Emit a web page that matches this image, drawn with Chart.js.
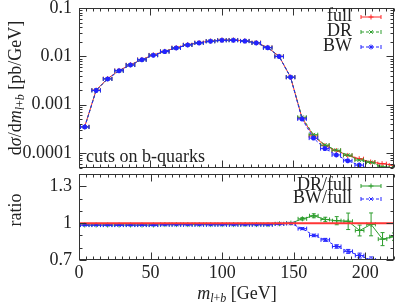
<!DOCTYPE html>
<html>
<head>
<meta charset="utf-8">
<script src="https://cdn.jsdelivr.net/npm/chart.js@4.4.0/dist/chart.umd.min.js"></script>
<style>
  body { margin: 0; background: #fff; }
  #wrap { position: relative; width: 399px; height: 302px; overflow: hidden; font-family: "Liberation Serif", serif; color: #222; }
  canvas { position: absolute; left: 0; }
  #top { top: 0; }
  #bottom { top: 169px; }
  .lbl { position: absolute; font-size: 18px; white-space: nowrap; line-height: 1; }
  .rot { transform: translate(-50%, -50%) rotate(-90deg); }
  sub { font-size: 12px; vertical-align: -3px; line-height: 0; }
</style>
</head>
<body>
<div id="wrap">
  <canvas id="top" width="399" height="173"></canvas>
  <canvas id="bottom" width="399" height="133"></canvas>
  <div class="lbl rot" style="left:15px;top:88px">d<i>σ</i>/d<i>m</i><sub><i>l</i>+<i>b</i></sub> [pb/GeV]</div>
  <div class="lbl rot" style="left:15px;top:210px">ratio</div>
  <div class="lbl" style="left:237px;top:293px;transform:translate(-50%,-50%)"><i>m</i><sub><i>l</i>+<i>b</i></sub> [GeV]</div>
  <div class="lbl" style="left:86px;top:156px;transform:translateY(-50%)">cuts on b-quarks</div>
</div>
<script>
// bin centres in m_l+b [GeV]
const mass = [4, 12, 20, 28, 36, 44, 52, 60, 68, 76, 84, 92, 100, 108, 116, 124, 132, 140, 148, 156, 164, 172, 180, 188, 196, 204, 212, 220]
const binHalf = 3

// dsigma/dm [pb/GeV]
const fullXs = [3.5e-4, 2.0e-3, 3.45e-3, 5.1e-3, 6.7e-3, 8.6e-3, 0.0107, 0.0127, 0.0151, 0.0174, 0.0192, 0.0207, 0.0217, 0.0218, 0.0209, 0.0192, 0.0153, 0.0100, 0.0037, 5.3e-4, 2.25e-4, 1.42e-4, 1.12e-4, 8.9e-5, 7.6e-5, 6.5e-5, 6.0e-5, 5.6e-5]
const drXs = [3.45e-4, 1.97e-3, 3.40e-3, 5.02e-3, 6.60e-3, 8.47e-3, 0.01054, 0.01254, 0.01492, 0.01719, 0.01897, 0.02045, 0.02144, 0.02154, 0.02065, 0.01897, 0.01512, 0.00995, 0.0037, 5.49e-4, 2.39e-4, 1.46e-4, 1.14e-4, 9.0e-5, 7.1e-5, 6.4e-5, 5.2e-5, 5.0e-5]
const bwXs = [3.44e-4, 1.97e-3, 3.40e-3, 5.02e-3, 6.60e-3, 8.47e-3, 0.01054, 0.01251, 0.01490, 0.01717, 0.01895, 0.02043, 0.02142, 0.02152, 0.02063, 0.01895, 0.01510, 0.00993, 0.00369, 5.06e-4, 2.03e-4, 1.23e-4, 9.1e-5, 6.9e-5, 5.6e-5, 4.55e-5, 4.0e-5, 3.6e-5]

// ratios to full
const drRatio = [0.985, 0.985, 0.985, 0.985, 0.985, 0.985, 0.985, 0.988, 0.988, 0.988, 0.988, 0.988, 0.988, 0.988, 0.988, 0.988, 0.988, 0.995, 1.0, 1.035, 1.06, 1.03, 1.02, 1.015, 0.94, 0.99, 0.87, 0.89]
const drRatioErr = [0.003, 0.003, 0.003, 0.003, 0.003, 0.003, 0.003, 0.003, 0.003, 0.003, 0.003, 0.003, 0.003, 0.003, 0.003, 0.003, 0.003, 0.004, 0.005, 0.01, 0.016, 0.018, 0.033, 0.067, 0.044, 0.093, 0.053, 0.03]
const bwRatio = [0.984, 0.984, 0.984, 0.984, 0.984, 0.984, 0.984, 0.987, 0.987, 0.987, 0.987, 0.987, 0.987, 0.987, 0.987, 0.987, 0.987, 0.993, 0.997, 0.955, 0.90, 0.864, 0.81, 0.77, 0.736, 0.70, 0.67, 0.64]
const bwRatioErr = [0.002, 0.002, 0.002, 0.002, 0.002, 0.002, 0.002, 0.002, 0.002, 0.002, 0.002, 0.002, 0.002, 0.002, 0.002, 0.002, 0.002, 0.003, 0.004, 0.008, 0.01, 0.012, 0.014, 0.016, 0.02, 0.025, 0.03, 0.035]
const refX = [0, 220]
const refY = [1, 1]

const xTicks = [0, 50, 100, 150, 200]
const xTickLabels = ["0", "50", "100", "150", "200"]
const yTopTicks = [1e-4, 1e-3, 1e-2, 1e-1]
const yTopTickLabels = ["0.0001", "0.001", "0.01", "0.1"]
const ratioTicks = [0.7, 1, 1.3]
const ratioTickLabels = ["0.7", "1", "1.3"]

const RED = "#ff2a2a"
const GREEN = "#2e9e2e"
const BLUE = "#2424ff"

Chart.defaults.font.family = "'Liberation Serif', serif"
Chart.defaults.font.size = 18
Chart.defaults.color = "#222"

const pts = (xs, ys) => xs.map((x, i) => ({ x, y: ys[i] }))

// scales must not steal room for their edge labels
const noPad = (s) => {
    s.paddingTop = 0
    s.paddingBottom = 0
    s.paddingLeft = 0
    s.paddingRight = 0
}

const errorBars = {
    id: "errorBars",
    afterDatasetDraw(chart, args) {
        const ds = chart.data.datasets[args.index]
        if (!ds.binHalf) return
        const { ctx, chartArea: a } = chart
        const xs = chart.scales.x
        const ys = chart.scales.y
        ctx.save()
        ctx.beginPath()
        ctx.rect(a.left, a.top, a.right - a.left, a.bottom - a.top)
        ctx.clip()
        ctx.strokeStyle = ds.borderColor
        ctx.lineWidth = 1
        ctx.setLineDash([])
        ds.data.forEach((p, i) => {
            const px = xs.getPixelForValue(p.x)
            const py = ys.getPixelForValue(p.y)
            const l = xs.getPixelForValue(p.x - ds.binHalf)
            const r = xs.getPixelForValue(p.x + ds.binHalf)
            ctx.beginPath()
            ctx.moveTo(l, py); ctx.lineTo(r, py)
            ctx.moveTo(l, py - 2); ctx.lineTo(l, py + 2)
            ctx.moveTo(r, py - 2); ctx.lineTo(r, py + 2)
            if (ds.yErr) {
                const e = ds.yErr[i]
                const t = ys.getPixelForValue(p.y + e)
                const b = ys.getPixelForValue(p.y - e)
                ctx.moveTo(px, t); ctx.lineTo(px, b)
                ctx.moveTo(px - 2, t); ctx.lineTo(px + 2, t)
                ctx.moveTo(px - 2, b); ctx.lineTo(px + 2, b)
            }
            ctx.stroke()
        })
        ctx.restore()
    },
}

// border with inward ticks on all four sides, gnuplot style
const frame = {
    id: "frame",
    afterDraw(chart, args, opts) {
        const { ctx, chartArea: a } = chart
        const xs = chart.scales.x
        const ys = chart.scales.y
        const L = Math.round(a.left) + 0.5
        const R = Math.round(a.right) - 0.5
        const T = Math.round(a.top) + 0.5
        const B = Math.round(a.bottom) - 0.5
        ctx.save()
        ctx.strokeStyle = "#333"
        ctx.lineWidth = 1
        ctx.beginPath()
        const xt = (v, len) => {
            const p = Math.round(xs.getPixelForValue(v)) + 0.5
            ctx.moveTo(p, B); ctx.lineTo(p, B - len)
            ctx.moveTo(p, T); ctx.lineTo(p, T + len)
        }
        const yt = (v, len) => {
            const p = Math.round(ys.getPixelForValue(v)) + 0.5
            ctx.moveTo(L, p); ctx.lineTo(L + len, p)
            ctx.moveTo(R, p); ctx.lineTo(R - len, p)
        }
        for (let v = 0; v <= 220; v += 5) xt(v, v % 50 === 0 ? 7 : 3)
        opts.yMajor.forEach((v) => yt(v, 7))
        opts.yMinor.forEach((v) => yt(v, 3))
        ctx.stroke()
        ctx.strokeRect(L, T, R - L, B - T)
        ctx.restore()
    },
}

const keyLegend = {
    id: "keyLegend",
    afterDraw(chart, args, opts) {
        const { ctx, chartArea: a } = chart
        ctx.save()
        ctx.font = "18px 'Liberation Serif', serif"
        ctx.textAlign = "right"
        ctx.textBaseline = "middle"
        opts.rows.forEach((idx, k) => {
            const ds = chart.data.datasets[idx]
            const y = a.top + opts.top + k * opts.step
            ctx.fillStyle = "#222"
            ctx.fillText(ds.label, opts.textRight, y - 1)
            ctx.strokeStyle = ds.borderColor
            ctx.lineWidth = 1
            ctx.setLineDash(ds.borderDash || [])
            ctx.beginPath()
            ctx.moveTo(opts.x0, y); ctx.lineTo(opts.x1, y)
            ctx.stroke()
            ctx.setLineDash([])
            ctx.beginPath()
            ctx.moveTo(opts.x0, y - 2); ctx.lineTo(opts.x0, y + 2)
            ctx.moveTo(opts.x1, y - 2); ctx.lineTo(opts.x1, y + 2)
            ctx.stroke()
            Chart.helpers.drawPoint(ctx, { pointStyle: ds.pointStyle, radius: ds.pointRadius, borderWidth: 1, rotation: 0 }, (opts.x0 + opts.x1) / 2, y)
        })
        ctx.restore()
    },
}

const logMinor = []
for (let d = -5; d <= -2; d++) {
    for (let k = 2; k <= 9; k++) {
        const v = k * Math.pow(10, d)
        if (v >= 5e-5 && v <= 0.1) logMinor.push(v)
    }
}

const series = (label, data, color, dash, style, order, extra) => Object.assign({
    label,
    data,
    borderColor: color,
    backgroundColor: color,
    borderWidth: 1,
    borderDash: dash,
    pointStyle: style,
    pointRadius: 2.5,
    pointBorderWidth: 1,
    tension: 0,
    fill: false,
    order,
    binHalf,
}, extra || {})

new Chart(document.getElementById("top"), {
    type: "line",
    data: {
        datasets: [
            series("full", pts(mass, fullXs), RED, [], "cross", 3),
            series("DR", pts(mass, drXs), GREEN, [3, 2], "crossRot", 2),
            series("BW", pts(mass, bwXs), BLUE, [3, 2], "star", 1, { pointBorderWidth: 1.5 }),
        ],
    },
    options: {
        responsive: false,
        animation: false,
        layout: { padding: { left: 0, right: 2, top: 8, bottom: 2 } },
        plugins: {
            legend: { display: false },
            tooltip: { enabled: false },
            frame: { yMajor: yTopTicks, yMinor: logMinor },
            keyLegend: { rows: [0, 1, 2], top: 9, step: 15, textRight: 352, x0: 361, x1: 381 },
        },
        scales: {
            x: { type: "linear", min: 0, max: 220, display: false },
            y: {
                type: "logarithmic",
                min: 5e-5,
                max: 0.1,
                grid: { display: false, drawTicks: false },
                border: { display: false },
                afterBuildTicks: (s) => { s.ticks = yTopTicks.map((v) => ({ value: v })) },
                afterFit: (s) => { s.width = 79; noPad(s) },
                ticks: { padding: 7, autoSkip: false, callback: (v, i) => yTopTickLabels[i] },
            },
        },
    },
    plugins: [errorBars, frame, keyLegend],
})

new Chart(document.getElementById("bottom"), {
    type: "line",
    data: {
        datasets: [
            series("full/full", pts(refX, refY), "#ff3535", [], "circle", 0, { borderWidth: 2, pointRadius: 0, binHalf: 0 }),
            series("DR/full", pts(mass, drRatio), GREEN, [], "cross", 2, { yErr: drRatioErr }),
            series("BW/full", pts(mass, bwRatio), BLUE, [3, 2], "crossRot", 1, { yErr: bwRatioErr }),
        ],
    },
    options: {
        responsive: false,
        animation: false,
        layout: { padding: { left: 0, right: 2, top: 2, bottom: 0 } },
        plugins: {
            legend: { display: false },
            tooltip: { enabled: false },
            frame: { yMajor: ratioTicks, yMinor: [0.8, 0.9, 1.1, 1.2] },
            keyLegend: { rows: [1, 2], top: 12, step: 13, textRight: 352, x0: 361, x1: 381 },
        },
        scales: {
            x: {
                type: "linear",
                min: 0,
                max: 220,
                grid: { display: false, drawTicks: false },
                border: { display: false },
                afterBuildTicks: (s) => { s.ticks = xTicks.map((v) => ({ value: v })) },
                afterFit: (s) => { s.height = 42; noPad(s) },
                ticks: { padding: 2, maxRotation: 0, autoSkip: false, callback: (v, i) => xTickLabels[i] },
            },
            y: {
                type: "linear",
                min: 0.7,
                max: 1.4,
                grid: { display: false, drawTicks: false },
                border: { display: false },
                afterBuildTicks: (s) => { s.ticks = ratioTicks.map((v) => ({ value: v })) },
                afterFit: (s) => { s.width = 79; noPad(s) },
                ticks: { padding: 7, autoSkip: false, callback: (v, i) => ratioTickLabels[i] },
            },
        },
    },
    plugins: [errorBars, frame, keyLegend],
})
</script>
</body>
</html>
